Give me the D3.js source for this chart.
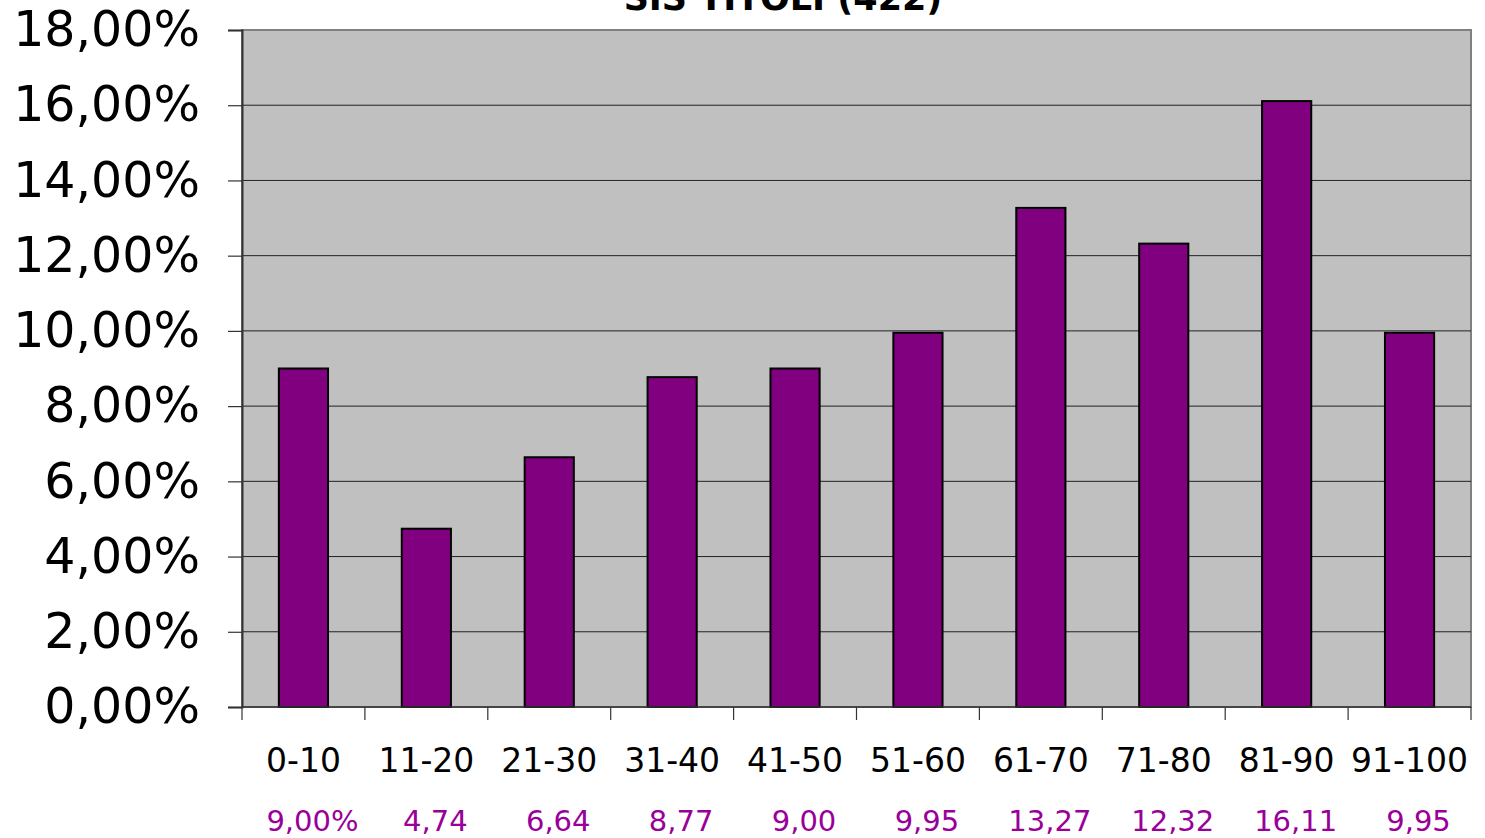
<!DOCTYPE html>
<html>
<head>
<meta charset="utf-8">
<script src="https://cdn.jsdelivr.net/npm/d3@7"></script>
<style>
  html, body { margin: 0; padding: 0; background: #fff; }
  svg { display: block; }
  text { font-family: Verdana, "DejaVu Sans", sans-serif; }
</style>
</head>
<body>
<script>
// Distribution of 422 titles by score band
const titleText = "SIS TITOLI (422)";
const categories = ["0-10", "11-20", "21-30", "31-40", "41-50", "51-60", "61-70", "71-80", "81-90", "91-100"];
const shares = [9.00, 4.74, 6.64, 8.77, 9.00, 9.95, 13.27, 12.32, 16.11, 9.95];
const yTicks = [0, 2, 4, 6, 8, 10, 12, 14, 16, 18];

const W = 1485, H = 838;
const plot = { left: 242, right: 1471, top: 30, bottom: 707 };

const svg = d3.select("body").append("svg").attr("width", W).attr("height", H);

const x = d3.scaleBand()
  .domain(categories)
  .range([plot.left, plot.right])
  .paddingInner(0.6)
  .paddingOuter(0.3);

const y = d3.scaleLinear().domain([0, 18]).range([plot.bottom, plot.top]);

const comma = v => d3.format(".2f")(v).replace(".", ",");

// plot background
svg.append("rect")
  .attr("x", plot.left).attr("y", plot.top)
  .attr("width", plot.right - plot.left).attr("height", plot.bottom - plot.top)
  .attr("fill", "#c0c0c0")
  .attr("stroke", "#808080").attr("stroke-width", 2);

// horizontal gridlines
svg.append("g").selectAll("line")
  .data(yTicks.filter(t => t > 0 && t < 18))
  .join("line")
  .attr("x1", plot.left).attr("x2", plot.right)
  .attr("y1", d => y(d)).attr("y2", d => y(d))
  .attr("stroke", "#222").attr("stroke-width", 1);

// y axis
const yAxis = d3.axisLeft(y)
  .tickValues(yTicks)
  .tickSize(14)
  .tickPadding(28)
  .tickFormat(d => comma(d) + "%");
const gy = svg.append("g").attr("transform", `translate(${plot.left},0)`).call(yAxis);
gy.select(".domain").attr("stroke", "#333").attr("stroke-width", 2);
gy.selectAll(".tick line").attr("stroke", "#333").attr("stroke-width", 1.2);
gy.selectAll(".tick text")
  .attr("font-size", 49)
  .attr("fill", "#000")
  .attr("font-family", "Verdana, 'DejaVu Sans', sans-serif");

// bars
svg.append("g").selectAll("rect")
  .data(categories.map((c, i) => ({ c, v: shares[i] })))
  .join("rect")
  .attr("x", d => x(d.c))
  .attr("y", d => y(d.v))
  .attr("width", x.bandwidth())
  .attr("height", d => y(0) - y(d.v))
  .attr("fill", "#800080")
  .attr("stroke", "#000")
  .attr("stroke-width", 2);

// x axis line and ticks at band boundaries
svg.append("line")
  .attr("x1", plot.left).attr("x2", plot.right)
  .attr("y1", plot.bottom).attr("y2", plot.bottom)
  .attr("stroke", "#333").attr("stroke-width", 1.5);
const step = x.step();
const boundaries = d3.range(categories.length + 1).map(i => plot.left + i * step);
svg.append("g").selectAll("line")
  .data(boundaries)
  .join("line")
  .attr("x1", d => d).attr("x2", d => d)
  .attr("y1", plot.bottom).attr("y2", plot.bottom + 13)
  .attr("stroke", "#333").attr("stroke-width", 1.2);

// category labels
svg.append("g").selectAll("text")
  .data(categories)
  .join("text")
  .attr("x", d => x(d) + x.bandwidth() / 2)
  .attr("y", 772)
  .attr("text-anchor", "middle")
  .attr("font-size", 33)
  .attr("fill", "#000")
  .text(d => d);

// value labels
svg.append("g").selectAll("text")
  .data(categories.map((c, i) => ({ c, v: shares[i], i })))
  .join("text")
  .attr("x", d => x(d.c) + x.bandwidth() / 2 + 9)
  .attr("y", 831)
  .attr("text-anchor", "middle")
  .attr("font-size", 29)
  .attr("fill", "#990099")
  .text(d => comma(d.v) + (d.i === 0 ? "%" : ""));

// title (runs off the top edge of the page)
svg.append("text")
  .attr("x", 783)
  .attr("y", 10)
  .attr("text-anchor", "middle")
  .attr("font-size", 35)
  .attr("font-weight", "bold")
  .attr("fill", "#000")
  .text(titleText);
</script>
</body>
</html>
